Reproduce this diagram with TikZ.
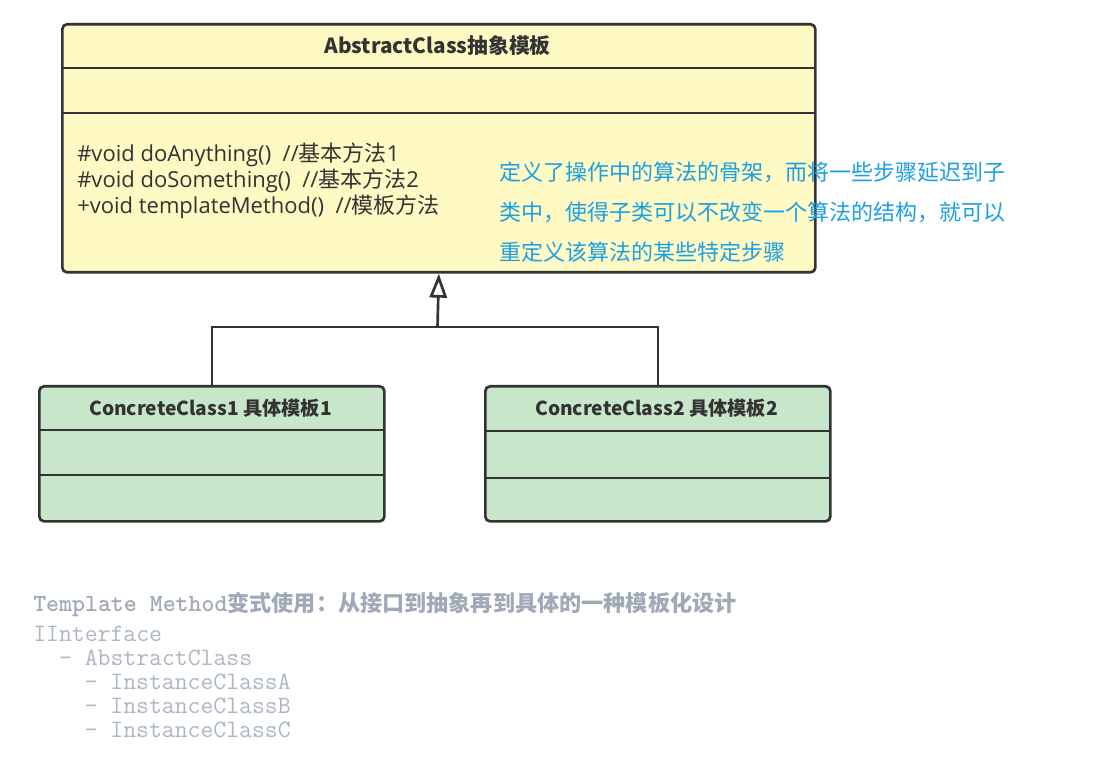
\documentclass[tikz,border=0pt]{standalone}
\usepackage{fontspec}
\setmainfont{Noto Sans CJK SC}
\newfontfamily\cjk{Noto Sans CJK SC}
\newfontfamily\lat{Open Sans}
\usetikzlibrary{arrows.meta}
\definecolor{edge}{HTML}{333333}
\definecolor{yellowfill}{HTML}{FFF9C4}
\definecolor{greenfill}{HTML}{C8E6C9}
\definecolor{bluetext}{HTML}{1AA0E4}
\definecolor{graytext}{HTML}{ACB6C5}
\definecolor{graytitle}{HTML}{9FA9B8}
\begin{document}
\begin{tikzpicture}[x=0.75pt,y=-0.75pt,
  classbox/.style={draw=edge, line width=2pt, rounded corners=3.5pt, inner sep=0pt, anchor=north west},
  divider/.style={draw=edge, line width=2pt},
  conn/.style={draw=edge, line width=2pt},
  titletext/.style={font=\cjk\bfseries\fontsize{14.4pt}{17pt}\selectfont, text=edge, inner sep=0pt},
  methodtext/.style={font=\fontsize{16.5pt}{19.5pt}\selectfont, text=edge, align=left, inner sep=0pt, anchor=west},
  notetext/.style={font=\cjk\fontsize{16.5pt}{30pt}\selectfont, text=bluetext, align=left, inner sep=0pt, anchor=west},
  codetext/.style={font=\ttfamily\fontsize{18.75pt}{18pt}\selectfont, text=graytext, align=left, inner sep=0pt, anchor=north west},
]
\useasboundingbox (0,0) rectangle (1109,762);
% Abstract class
\node[classbox, fill=yellowfill, minimum width=753*0.75pt, minimum height=248*0.75pt] (abs) at (61,23) {};
\draw[divider] (61,68) -- (814,68);
\draw[divider] (61,113) -- (814,113);
\node[titletext, font=\cjk\bfseries\fontsize{15.6pt}{17pt}\selectfont] (absT) at (437.5,46) {AbstractClass抽象模板};
\node[methodtext] (absM) at (77,181) {{\lat \#void doAnything()\ \ //}{\cjk 基本方法}{\lat 1}\\{\lat \#void doSomething()\ \ //}{\cjk 基本方法}{\lat 2}\\{\lat +void templateMethod()\ \ //}{\cjk 模板方法}};
% note
\node[notetext] (note) at (499,212) {定义了操作中的算法的骨架，而将一些步骤延迟到子\\类中，使得子类可以不改变一个算法的结构，就可以\\重定义该算法的某些特定步骤};
% concrete classes
\node[classbox, fill=greenfill, minimum width=345*0.75pt, minimum height=135*0.75pt] (c1) at (38,385) {};
\draw[divider] (38,430) -- (383,430);
\draw[divider] (38,475) -- (383,475);
\node[titletext] (c1T) at (210.5,408) {ConcreteClass1 具体模板1};
\node[classbox, fill=greenfill, minimum width=345*0.75pt, minimum height=135*0.75pt] (c2) at (484,385) {};
\draw[divider] (484,431) -- (829,431);
\draw[divider] (484,478) -- (829,478);
\node[titletext] (c2T) at (656.5,408) {ConcreteClass2 具体模板2};
% connectors
\coordinate (joint) at (437.5,327);
\draw[conn] (c1.north) |- (joint) -| (c2.north);
\draw[conn, -{Triangle[open, length=18pt, width=13pt]}] (joint) -- (abs.south);
% bottom text
\node[anchor=west, inner sep=0pt, text=graytitle] (btitle) at (33,605) {{\ttfamily\bfseries\fontsize{18.5pt}{18pt}\selectfont Template Method}{\cjk\bfseries\fontsize{16.6pt}{18pt}\selectfont 变式使用：从接口到抽象再到具体的一种模板化设计}};
\node[codetext] (code) at (33,626) {IInterface\\\ \ - AbstractClass\\\ \ \ \ - InstanceClassA\\\ \ \ \ - InstanceClassB\\\ \ \ \ - InstanceClassC};
\end{tikzpicture}
\end{document}
